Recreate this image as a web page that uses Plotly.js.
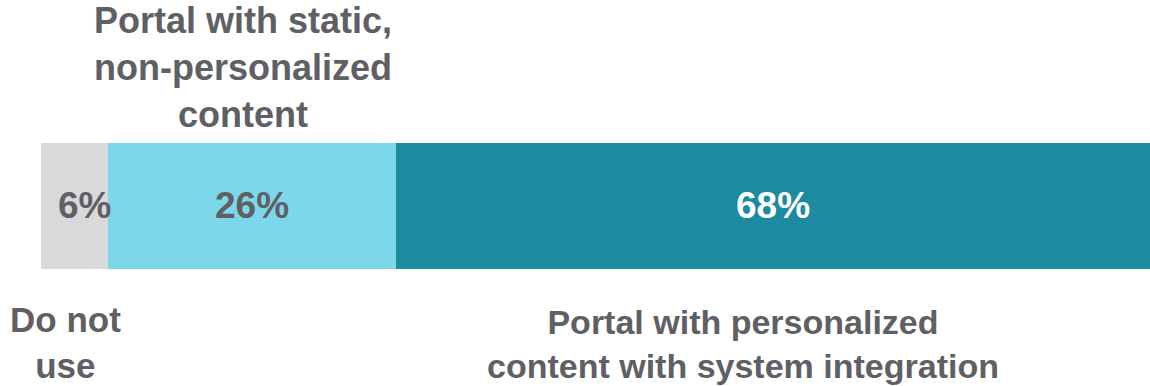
<!DOCTYPE html>
<html>
<head>
<meta charset="utf-8">
<script src="https://cdn.plot.ly/plotly-3.0.1.min.js"></script>
<style>html,body{margin:0;padding:0;background:#fff;}#chart{width:1150px;height:386px;}</style>
</head>
<body>
<div id="chart"></div>
<script>
const categories = ["Do not<br>use", "Portal with static,<br>non-personalized<br>content", "Portal with personalized<br>content with system integration"];
const values = [6, 26, 68];
const valueLabels = ["6%", "26%", "68%"];
const colors = ["#d9d9d9", "#7bd7e9", "#1c8a9f"];
const labelColors = ["#5f6064", "#5f6064", "#ffffff"];

const font = "Liberation Sans, Arial, sans-serif";
const grey = "#5f6064";

const traces = values.map((v, i) => ({
  type: "bar",
  orientation: "h",
  x: [v],
  y: [0],
  width: 1,
  marker: {color: colors[i], line: {width: 0}},
  hoverinfo: "none",
  showlegend: false
}));

// cumulative centres
const starts = [];
let acc = 0;
values.forEach(v => { starts.push(acc); acc += v; });
const centres = values.map((v, i) => starts[i] + v / 2);

const pctShift = [10, 0, 0];
const catShift = [-9, -9, -30];
const catY = [-1.083, 1.104, -1.095];
const catSize = [35, 36, 34];

const annotations = [];
values.forEach((v, i) => {
  annotations.push({
    x: centres[i], y: 0, xref: "x", yref: "y",
    text: "<b>" + valueLabels[i] + "</b>",
    showarrow: false, xshift: pctShift[i],
    font: {family: font, size: 37, color: labelColors[i]},
    xanchor: "center", yanchor: "middle"
  });
  annotations.push({
    x: centres[i], y: catY[i], xref: "x", yref: "y",
    text: "<b>" + categories[i] + "</b>",
    showarrow: false, xshift: catShift[i],
    font: {family: font, size: catSize[i], color: grey},
    xanchor: "center", yanchor: "middle", align: "center"
  });
});

const layout = {
  width: 1150, height: 386,
  margin: {l: 0, r: 0, t: 0, b: 0, pad: 0},
  barmode: "stack",
  bargap: 0,
  paper_bgcolor: "#ffffff",
  plot_bgcolor: "#ffffff",
  xaxis: {range: [-3.7, 100], visible: false, fixedrange: true},
  yaxis: {range: [-1.433, 1.638], visible: false, fixedrange: true},
  annotations: annotations,
  showlegend: false
};

Plotly.newPlot("chart", traces, layout, {staticPlot: true, displayModeBar: false});
</script>
</body>
</html>
